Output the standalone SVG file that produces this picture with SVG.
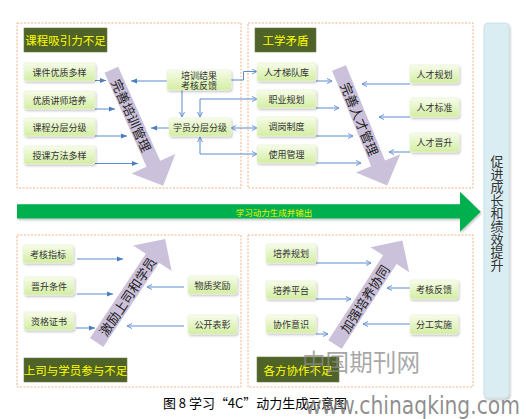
<svg xmlns="http://www.w3.org/2000/svg" width="526" height="419" viewBox="0 0 526 419">
<defs>
<linearGradient id="ng" x1="0" y1="0" x2="0" y2="1"><stop offset="0" stop-color="#f7fcea"/><stop offset="1" stop-color="#d3eea2"/></linearGradient>
<filter id="sh" x="-20%" y="-30%" width="140%" height="170%"><feDropShadow dx="1" dy="1.5" stdDeviation="1" flood-color="#000" flood-opacity="0.25"/></filter>
<marker id="tri" viewBox="0 0 6 6" refX="6" refY="3" markerWidth="6" markerHeight="6" orient="auto-start-reverse" markerUnits="userSpaceOnUse"><path d="M0,0.5 L6,3 L0,5.5 Z" fill="#4a7ebf"/></marker>
<marker id="chev" viewBox="0 0 6 6" refX="5.5" refY="3" markerWidth="6" markerHeight="6" orient="auto-start-reverse" markerUnits="userSpaceOnUse"><path d="M0.5,0.5 L5.5,3 L0.5,5.5" fill="none" stroke="#6a96d0" stroke-width="1"/></marker>
<path id="parr" d="M0,-7.5 L103,-7.5 L103,-24 L127,0 L103,24 L103,7.5 L0,7.5 Z"/>
<path id="parr2" d="M0,-8 L101,-8 L101,-23 L124,0 L101,23 L101,8 L0,8 Z"/>
</defs>
<style>
.zone{fill:none;stroke:#f4b183;stroke-width:1;stroke-dasharray:2 1.5}
.node rect{fill:url(#ng);stroke:#e8f3d2;stroke-width:0.6;filter:url(#sh)}
.node text{font-family:"Noto Sans CJK SC","Noto Sans",sans-serif;font-size:9px;fill:#333;text-anchor:middle;dominant-baseline:central}
.title rect{fill:#4f6228;stroke:#6b7d45;stroke-width:0.6}
.title text{font-family:"Noto Sans CJK SC","Noto Sans",sans-serif;font-size:11.5px;fill:#ffff00;text-anchor:middle;dominant-baseline:central}
.pa use{fill:#ccc1da}
.pa text{font-family:"Noto Sans CJK SC","Noto Sans",sans-serif;font-size:13px;fill:#222;text-anchor:middle;dominant-baseline:central}
.c path{fill:none;stroke:#5b8bd0;stroke-width:1}
.t{marker-end:url(#tri)}
.h{marker-end:url(#chev)}
.d{marker-start:url(#chev);marker-end:url(#chev)}
</style>
<rect width="526" height="419" fill="#ffffff"/>

<!-- zones -->
<rect class="zone" x="17" y="23" width="224" height="165"/>
<rect class="zone" x="248" y="23" width="225" height="165"/>
<rect class="zone" x="17" y="235" width="224" height="152"/>
<rect class="zone" x="248" y="235" width="225" height="152"/>

<!-- right bar -->
<g id="bar">
<rect x="484" y="23" width="25" height="375" rx="4" fill="#daedf3" stroke="#c6dde6" stroke-width="0.8" filter="url(#sh)"/>
<text x="497" y="155" writing-mode="vertical-rl" font-family="Noto Sans CJK SC,Noto Sans,sans-serif" font-size="13" fill="#333">促进成长和绩效提升</text>
</g>

<!-- green arrow -->
<g id="green">
<path d="M17,204.3 L460,204.3 L460,191.7 L480.7,211.7 L460,231.7 L460,218.5 L17,218.5 Z" fill="#00b050" filter="url(#sh)"/>
<text x="274" y="212" font-family="Noto Sans CJK SC,Noto Sans,sans-serif" font-size="8.5" fill="#f2f200" text-anchor="middle" dominant-baseline="central">学习动力生成并输出</text>
</g>

<!-- purple arrows -->
<g id="pa1" class="pa" transform="translate(111.3,69.7) rotate(65.9)"><use href="#parr"/><text x="50" y="0" font-size="13.5">完善培训管理</text></g>
<g id="pa2" class="pa" transform="translate(339,68) rotate(67.7)"><use href="#parr"/><text x="55" y="0" font-size="13.5">完善人才管理</text></g>
<g id="pa3" class="pa" transform="translate(96.7,342.5) rotate(-56.5)"><use href="#parr2"/><text x="55.5" y="0">激励上司和学员</text></g>
<g id="pa4" class="pa" transform="translate(335,344.5) rotate(-57.1)"><use href="#parr2"/><text x="54.4" y="0">加强培养协同</text></g>

<!-- titles -->
<g id="t1" class="title"><rect x="24" y="28" width="83" height="24"/><text x="65.5" y="40">课程吸引力不足</text></g>
<g id="t2" class="title"><rect x="255" y="28" width="61" height="24"/><text x="285.5" y="40">工学矛盾</text></g>
<g id="t3" class="title"><rect x="24" y="358" width="103" height="24"/><text x="75.5" y="370">上司与学员参与不足</text></g>
<g id="t4" class="title"><rect x="257" y="357" width="82" height="25"/><text x="298" y="369.5">各方协作不足</text></g>

<!-- connectors -->
<g id="connectors" class="c">
<path class="t" d="M95,80.5 H106"/>
<path class="t" d="M95,109 H115"/>
<path class="t" d="M95,136 H127"/>
<path class="t" d="M95,163.5 H138"/>
<path class="t" d="M167,81 H131"/>
<path class="t" d="M169,128 H151"/>
<path class="h" d="M182,90 V117"/>
<path class="h" d="M231,80 H243.5 V71.5 H257"/>
<path class="d" d="M257,99 H200 V117"/>
<path class="d" d="M231,128 H257"/>
<path class="d" d="M200,137 V154 H257"/>
<path class="h" d="M316,81 H332"/>
<path class="h" d="M316,108 H339"/>
<path class="h" d="M316,136 H353"/>
<path class="h" d="M316,163 H361"/>
<path class="h" d="M410,84 H362"/>
<path class="h" d="M410,117 H379"/>
<path class="h" d="M410,152 H389"/>
<path class="t" d="M77,259 H123"/>
<path class="t" d="M77,294 H113"/>
<path class="t" d="M76,328 H95"/>
<path class="h" d="M184,287 H147"/>
<path class="h" d="M184,326 H127"/>
<path class="h" d="M316,263 H371"/>
<path class="h" d="M316,299 H351"/>
<path class="h" d="M316,334 H328"/>
<path class="h" d="M410,288 H387"/>
<path class="h" d="M410,324 H363"/>
</g>

<!-- nodes -->
<g id="n1" class="node"><rect x="24" y="63" width="71" height="18" rx="2"/><text x="59.5" y="72">课件优质多样</text></g>
<g id="n2" class="node"><rect x="24" y="91" width="71" height="18" rx="2"/><text x="59.5" y="100">优质讲师培养</text></g>
<g id="n3" class="node"><rect x="24" y="118" width="71" height="18" rx="2"/><text x="59.5" y="127">课程分层分级</text></g>
<g id="n4" class="node"><rect x="24" y="146" width="71" height="18" rx="2"/><text x="59.5" y="155">授课方法多样</text></g>
<g id="n5" class="node"><rect x="167" y="70" width="64" height="20" rx="2"/><text x="199" y="75.5">培训结果<tspan x="199" y="85">考核反馈</tspan></text></g>
<g id="n6" class="node"><rect x="169" y="118" width="62" height="18" rx="2"/><text x="200" y="127">学员分层分级</text></g>

<g id="n7" class="node"><rect x="257" y="63" width="59" height="18" rx="2"/><text x="286.5" y="72">人才梯队库</text></g>
<g id="n8" class="node"><rect x="257" y="90" width="59" height="18" rx="2"/><text x="286.5" y="99">职业规划</text></g>
<g id="n9" class="node"><rect x="257" y="117" width="59" height="19" rx="2"/><text x="286.5" y="126.5">调岗制度</text></g>
<g id="n10" class="node"><rect x="257" y="145" width="59" height="18" rx="2"/><text x="286.5" y="154">使用管理</text></g>
<g id="n11" class="node"><rect x="410" y="65" width="49" height="18" rx="2"/><text x="434.5" y="74">人才规划</text></g>
<g id="n12" class="node"><rect x="410" y="98" width="49" height="19" rx="2"/><text x="434.5" y="107.5">人才标准</text></g>
<g id="n13" class="node"><rect x="410" y="133" width="49" height="19" rx="2"/><text x="434.5" y="142.5">人才晋升</text></g>

<g id="n14" class="node"><rect x="23" y="245" width="50" height="18" rx="2"/><text x="48" y="254">考核指标</text></g>
<g id="n15" class="node"><rect x="24" y="277" width="50" height="18" rx="2"/><text x="49" y="286">晋升条件</text></g>
<g id="n16" class="node"><rect x="24" y="312" width="50" height="18" rx="2"/><text x="49" y="321">资格证书</text></g>
<g id="n17" class="node"><rect x="188" y="276" width="49" height="18" rx="2"/><text x="212.5" y="285">物质奖励</text></g>
<g id="n18" class="node"><rect x="188" y="315" width="49" height="19" rx="2"/><text x="212.5" y="324.5">公开表彰</text></g>

<g id="n19" class="node"><rect x="266" y="244" width="50" height="19" rx="2"/><text x="291" y="253.5">培养规划</text></g>
<g id="n20" class="node"><rect x="266" y="281" width="50" height="18" rx="2"/><text x="291" y="290">培养平台</text></g>
<g id="n21" class="node"><rect x="266" y="315" width="50" height="18" rx="2"/><text x="291" y="324">协作意识</text></g>
<g id="n22" class="node"><rect x="410" y="280" width="48" height="19" rx="2"/><text x="434" y="289.5">考核反馈</text></g>
<g id="n23" class="node"><rect x="410" y="315" width="48" height="19" rx="2"/><text x="434" y="324.5">分工实施</text></g>

<!-- caption and watermark -->
<text x="163" y="408" font-family="Noto Sans CJK SC,Noto Sans,sans-serif" font-size="13" fill="#000" textLength="184" lengthAdjust="spacingAndGlyphs">图 8 学习“4C”动力生成示意图</text>
<text x="302" y="371" font-family="Noto Sans CJK SC,sans-serif" font-size="24" fill="#8a8a8a" fill-opacity="0.75" textLength="118" lengthAdjust="spacingAndGlyphs">中国期刊网</text>
<text x="305" y="414" font-family="DejaVu Sans,sans-serif" font-size="24" fill="#7a7a7a" fill-opacity="0.85" textLength="215" lengthAdjust="spacingAndGlyphs">www.chinaqking.com</text>
</svg>
